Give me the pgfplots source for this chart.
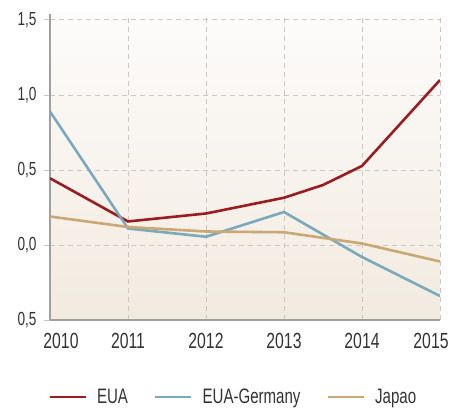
\documentclass[border=0pt]{standalone}
\usepackage{fontspec}
\setmainfont[FakeStretch=0.72]{Liberation Sans}
\usepackage{pgfplots}
\pgfplotsset{compat=1.18}
\definecolor{cred}{HTML}{9B1C20}
\definecolor{cblue}{HTML}{7AA8BC}
\definecolor{ctan}{HTML}{C9A876}
\definecolor{gridc}{HTML}{C8C8C8}
\definecolor{axc}{HTML}{A0A0A0}
\definecolor{bgtop}{HTML}{FDFCFB}
\definecolor{bgbot}{HTML}{F2EADF}
\begin{document}
\begin{tikzpicture}
\begin{axis}[
  scale only axis, width=390bp, height=306bp,
  xmin=2010, xmax=2015, ymin=-0.5, ymax=1.54,
  axis lines*=left,
  axis line style={axc, line width=1.3bp},
  axis background/.style={top color=bgtop, bottom color=bgbot},
  xtick={2010,2011,2012,2013,2014,2015},
  xticklabels={\hspace*{22bp}2010,2011,2012,2013,2014,2015\hspace*{18bp}},
  ytick={-0.5,0,0.5,1,1.5},
  yticklabels={{0,5},{0,0},{0,5},{1,0},{1,5}},
  grid=major,
  major grid style={gridc, dash pattern=on 5bp off 4bp, line width=1bp},
  tick align=outside, major tick length=6bp,
  xtick style={draw=none},
  ytick style={gridc, line width=1bp},
  xticklabel style={font=\fontsize{22}{24}\selectfont, text=black!80, yshift=-4bp},
  yticklabel style={font=\fontsize{19}{20}\selectfont, text=black!80, xshift=-4bp},
  legend columns=3,
  legend style={draw=none, fill=none, at={(0.47,-0.252)}, anchor=center,
    font=\fontsize{21}{24}\selectfont, text=black!80,
    /tikz/every odd column/.append style={column sep=8bp},
    /tikz/every even column/.append style={column sep=24bp}},
  legend image code/.code={\draw[#1, line width=2.6bp] (0bp,0bp) -- (36bp,0bp);},
]
\addplot[cred, line width=2.6bp] coordinates {(2010,0.445)(2011,0.157)(2012,0.21)(2013,0.315)(2013.5,0.40)(2014,0.527)(2015,1.10)};
\addlegendentry{EUA}
\addplot[cblue, line width=2.6bp] coordinates {(2010,0.89)(2011,0.11)(2012,0.055)(2013,0.22)(2014,-0.08)(2015,-0.34)};
\addlegendentry{EUA-Germany}
\addplot[ctan, line width=2.6bp] coordinates {(2010,0.19)(2011,0.12)(2012,0.09)(2013,0.085)(2014,0.01)(2015,-0.11)};
\addlegendentry{Japao}
\end{axis}
\pgfresetboundingbox
\path[use as bounding box] ([xshift=-50bp,yshift=-87bp]current axis.south west) rectangle ([xshift=11bp,yshift=14bp]current axis.north east);
\end{tikzpicture}
\end{document}
